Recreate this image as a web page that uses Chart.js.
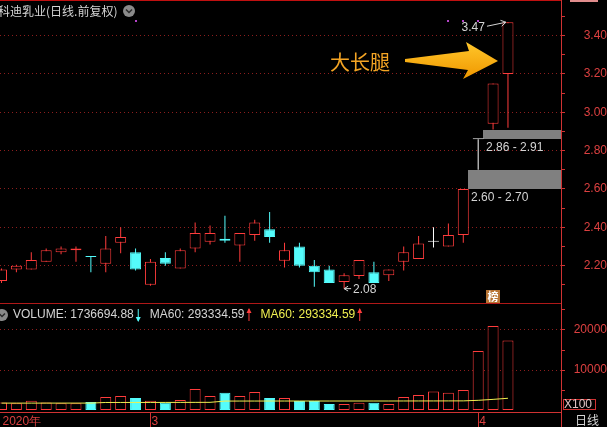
<!DOCTYPE html>
<html>
<head>
<meta charset="utf-8">
<script src="https://cdn.jsdelivr.net/npm/chart.js@4"></script>
<style>
html, body { margin: 0; padding: 0; background: #000; overflow: hidden; }
#wrap { position: relative; width: 607px; height: 427px; background: #000; }
#pBox { position: absolute; left: 0; top: 0; width: 607px; height: 303px; }
#vBox { position: absolute; left: 0; top: 303px; width: 607px; height: 124px; }
</style>
</head>
<body>
<div id="wrap">
  <div id="pBox"><canvas id="priceChart"></canvas></div>
  <div id="vBox"><canvas id="volChart"></canvas></div>
</div>
<script>
// daily candles, 科迪乳业 (前复权)
const opens  = [2.12,2.18,2.18,2.22,2.27,2.28,2.25,2.21,2.32,2.27,2.10,2.24,2.185,2.29,2.325,2.34,2.305,2.36,2.39,2.225,2.30,2.20,2.18,2.115,2.146,2.165,2.15,2.22,2.235,2.325,2.30,2.36,2.86,2.94,3.20];
const highs  = [2.185,2.205,2.27,2.29,2.30,2.30,2.25,2.355,2.40,2.29,2.235,2.27,2.29,2.425,2.41,2.46,2.37,2.44,2.48,2.32,2.32,2.23,2.20,2.16,2.23,2.22,2.18,2.30,2.355,2.40,2.42,2.60,2.86,3.15,3.47];
const lows   = [2.11,2.165,2.18,2.22,2.26,2.22,2.165,2.165,2.265,2.175,2.095,2.20,2.185,2.27,2.31,2.32,2.22,2.33,2.32,2.19,2.19,2.09,2.11,2.08,2.13,2.11,2.12,2.175,2.235,2.295,2.30,2.32,2.70,2.91,2.92];
const closes = [2.18,2.20,2.23,2.28,2.29,2.29,2.245,2.29,2.35,2.18,2.22,2.21,2.28,2.37,2.37,2.33,2.37,2.425,2.35,2.28,2.20,2.165,2.11,2.15,2.23,2.11,2.18,2.27,2.315,2.325,2.36,2.60,2.86,3.15,3.47];
// volume in units of 100
const volumes = [1900,1700,2300,1900,1700,1700,2000,3250,3500,3000,2300,1900,2500,5250,3500,4300,3500,4500,3000,3000,2250,2250,1500,1500,1800,1800,1500,3250,3750,4600,4300,5000,14750,21000,17367];
const ma60 = [1720,1720,1720,1725,1725,1725,1730,1880,1885,1890,1890,1895,1900,1910,1915,2230,2235,2240,2240,2245,2245,2245,2245,2250,2250,2250,2250,2255,2260,2265,2270,2280,2420,2660,2933];

const priceTicks = [2.1,2.2,2.3,2.4,2.5,2.6,2.7,2.8,2.9,3.0,3.1,3.2,3.3,3.4,3.5];
const priceTickLabels = ['','2.20','','2.40','','2.60','','2.80','','3.00','','3.20','','3.40',''];
const volTicks = [5000,10000,15000,20000,25000];
const volTickLabels = ['','10000','','20000',''];
const monthIdx = [0, 10, 32];
const monthLabels = ['2020年', '3', '4'];
const eventIdx = [9, 30, 31, 32];

const titleText = '科迪乳业(日线.前复权)';
const legendVol = 'VOLUME: 1736694.88';
const legendMa = 'MA60: 293334.59';

const UP = '#ff3c3c', DOWN = '#54fcfc', FLAT = '#ffffff';
const AXIS = '#d03232', GRID = '#8c1e1e', LABEL = '#dc4040', TXT = '#d4d4d4';
const X_MIN = -0.1, X_MAX = 37.56;

Chart.defaults.font.family = '"Liberation Sans", Arial, sans-serif';
Chart.defaults.font.size = 12;

const idx = opens.map((_, i) => i);
const colorOf = i => closes[i] > opens[i] ? UP : (closes[i] < opens[i] ? DOWN : FLAT);
const candleLine = idx.map(colorOf);
const candleFill = idx.map(i => closes[i] > opens[i] ? '#000000' : colorOf(i));
const volLine = idx.map(i => closes[i] < opens[i] ? DOWN : UP);
const volFill = idx.map(i => closes[i] < opens[i] ? DOWN : '#000000');

function arrowHead(ctx, x, y, dx, dy, size) {
  const len = Math.hypot(dx, dy), ux = dx / len, uy = dy / len;
  ctx.beginPath();
  ctx.moveTo(x, y);
  ctx.lineTo(x - ux * size - uy * size * 0.6, y - uy * size + ux * size * 0.6);
  ctx.moveTo(x, y);
  ctx.lineTo(x - ux * size + uy * size * 0.6, y - uy * size - ux * size * 0.6);
  ctx.stroke();
}

function circleIcon(ctx, cx, cy) {
  ctx.fillStyle = '#8a8a8a';
  ctx.beginPath(); ctx.arc(cx, cy, 6, 0, Math.PI * 2); ctx.fill();
  ctx.strokeStyle = '#2a2a2a'; ctx.lineWidth = 1.5;
  ctx.beginPath(); ctx.moveTo(cx - 3, cy - 1.5); ctx.lineTo(cx, cy + 1.5); ctx.lineTo(cx + 3, cy - 1.5); ctx.stroke();
}

function fixRight(s) { s.width = 46; s.paddingTop = 0; s.paddingBottom = 0; }

const priceDecor = {
  id: 'priceDecor',
  beforeDatasetsDraw(chart) {
    const { ctx, chartArea, scales: { x, y } } = chart;
    ctx.save();
    ctx.font = '12px "Liberation Sans"';
    ctx.textBaseline = 'middle';
    ctx.textAlign = 'left';
    // unfilled up-gaps
    for (let i = 0; i < highs.length - 1; i++) {
      const lo = highs[i], hi = lows[i + 1];
      if (hi <= lo) continue;
      if (lows.slice(i + 1).some(v => v <= lo)) continue;
      const x0 = Math.round(x.getPixelForValue(i) + 5);
      const yTop = Math.round(y.getPixelForValue(hi)), yBot = Math.round(y.getPixelForValue(lo));
      ctx.fillStyle = '#808080';
      ctx.fillRect(x0, yTop, chartArea.right - x0, yBot - yTop);
      ctx.fillStyle = TXT;
      ctx.fillText(lo.toFixed(2) + ' - ' + hi.toFixed(2), x0 + 3, yBot + 9);
    }
    ctx.restore();
  },
  afterDraw(chart) {
    const { ctx, scales: { x, y } } = chart;
    ctx.save();
    ctx.fillStyle = '#c01010';
    ctx.fillRect(0, 0, 561, 1);
    ctx.fillStyle = '#e08c8c';
    ctx.fillRect(570, 0, 28, 2);

    ctx.font = '12px "Noto Sans CJK SC"';
    ctx.fillStyle = TXT;
    ctx.textBaseline = 'middle';
    ctx.textAlign = 'left';
    ctx.fillText(titleText, -2, 11);
    circleIcon(ctx, 129, 11);

    ctx.fillStyle = '#b444c8';
    eventIdx.forEach(i => ctx.fillRect(Math.round(x.getPixelForValue(i)) - 1, 20, 2, 2));

    // highest / lowest marks
    ctx.font = '12px "Liberation Sans"';
    ctx.strokeStyle = TXT; ctx.fillStyle = TXT; ctx.lineWidth = 1;
    const iMax = highs.indexOf(Math.max(...highs));
    const hx = x.getPixelForValue(iMax), hy = y.getPixelForValue(highs[iMax]);
    ctx.textAlign = 'right';
    ctx.fillText(highs[iMax].toFixed(2), hx - 23, hy + 5);
    ctx.beginPath(); ctx.moveTo(hx - 21, hy + 4); ctx.lineTo(hx - 2, hy); ctx.stroke();
    arrowHead(ctx, hx - 2, hy, 19, -4, 5);
    const iMin = lows.indexOf(Math.min(...lows));
    const lx = x.getPixelForValue(iMin), ly = y.getPixelForValue(lows[iMin]);
    ctx.textAlign = 'left';
    ctx.beginPath(); ctx.moveTo(lx, ly); ctx.lineTo(lx + 7, ly); ctx.stroke();
    arrowHead(ctx, lx, ly, -7, 0, 4);
    ctx.fillText(lows[iMin].toFixed(2), lx + 9, ly + 1);

    // annotation arrow
    const g = ctx.createLinearGradient(0, 43, 0, 78);
    g.addColorStop(0, '#ffc62a');
    g.addColorStop(1, '#f09800');
    ctx.fillStyle = g;
    ctx.beginPath();
    ctx.moveTo(405, 59);
    ctx.lineTo(469, 51);
    ctx.lineTo(466, 42);
    ctx.lineTo(498, 61);
    ctx.lineTo(463, 79);
    ctx.lineTo(468, 70);
    ctx.lineTo(405, 62);
    ctx.closePath();
    ctx.fill();
    ctx.font = '20px "Noto Sans CJK SC"';
    ctx.fillStyle = '#f4a424';
    ctx.fillText('大长腿', 330, 62);

    // 榜 badge
    const bx = Math.round(x.getPixelForValue(33)) - 7;
    ctx.fillStyle = '#b87434';
    ctx.fillRect(bx, 290, 14, 13);
    ctx.fillStyle = '#ffffff';
    ctx.font = 'bold 11px "Noto Sans CJK SC"';
    ctx.textAlign = 'center';
    ctx.fillText('榜', bx + 7, 297);
    ctx.restore();
  }
};

const volDecor = {
  id: 'volDecor',
  afterDraw(chart) {
    const { ctx, chartArea } = chart;
    ctx.save();
    ctx.fillStyle = '#b01818';
    ctx.fillRect(0, 0, 561, 1);
    ctx.fillStyle = AXIS;
    ctx.fillRect(561, chartArea.bottom, 1, chart.height - chartArea.bottom);

    circleIcon(ctx, 2, 12);
    ctx.font = '12px "Liberation Sans"';
    ctx.textBaseline = 'middle';
    ctx.textAlign = 'left';
    const drawArrow = (ax, up, col) => {
      ctx.strokeStyle = col; ctx.fillStyle = col; ctx.lineWidth = 1;
      ctx.beginPath(); ctx.moveTo(ax + 0.5, 6); ctx.lineTo(ax + 0.5, 18); ctx.stroke();
      ctx.beginPath();
      if (up) { ctx.moveTo(ax + 0.5, 5); ctx.lineTo(ax - 2, 10); ctx.lineTo(ax + 3, 10); }
      else { ctx.moveTo(ax + 0.5, 19); ctx.lineTo(ax - 2, 14); ctx.lineTo(ax + 3, 14); }
      ctx.fill();
    };
    let tx = 13;
    ctx.fillStyle = TXT;
    ctx.fillText(legendVol, tx, 12);
    tx += ctx.measureText(legendVol).width + 4;
    drawArrow(tx, false, DOWN);
    tx += 12;
    ctx.fillStyle = TXT;
    ctx.fillText(legendMa, tx, 12);
    tx += ctx.measureText(legendMa).width + 4;
    drawArrow(tx, true, UP);
    tx += 12;
    ctx.fillStyle = '#f0f050';
    ctx.fillText(legendMa, tx, 12);
    tx += ctx.measureText(legendMa).width + 4;
    drawArrow(tx, true, UP);

    ctx.strokeStyle = AXIS; ctx.lineWidth = 1;
    ctx.strokeRect(563.5, 96.5, 32, 10);
    ctx.fillStyle = '#e0c4c4';
    ctx.fillText('X100', 564, 102);
    ctx.font = '12px "Noto Sans CJK SC"';
    ctx.fillStyle = TXT;
    ctx.fillText('日线', 575, 117);
    ctx.restore();
  }
};

new Chart(document.getElementById('priceChart'), {
  type: 'bar',
  data: {
    datasets: [
      {
        label: 'body',
        data: idx.map(i => ({ x: i, y: [opens[i], closes[i]] })),
        backgroundColor: candleFill,
        borderColor: candleLine,
        borderWidth: 1,
        borderSkipped: false,
        barThickness: 11,
        minBarLength: 1,
        inflateAmount: 0,
        grouped: false,
        order: 0
      },
      {
        label: 'wick',
        data: idx.map(i => ({ x: i, y: [lows[i], highs[i]] })),
        backgroundColor: candleLine,
        borderWidth: 0,
        barThickness: 1,
        inflateAmount: 0,
        grouped: false,
        order: 1
      }
    ]
  },
  options: {
    responsive: true,
    maintainAspectRatio: false,
    animation: false,
    events: [],
    layout: { padding: 0, autoPadding: false },
    plugins: { legend: { display: false }, tooltip: { enabled: false } },
    scales: {
      x: { type: 'linear', min: X_MIN, max: X_MAX, display: false, offset: false, grid: { offset: false } },
      y: {
        position: 'right',
        min: 2.005,
        max: 3.586,
        afterBuildTicks: s => { s.ticks = priceTicks.map(v => ({ value: v })); },
        afterFit: fixRight,
        ticks: {
          callback: (v, i) => priceTickLabels[i],
          color: LABEL,
          crossAlign: 'far',
          padding: 2,
          font: { size: 12 }
        },
        grid: {
          color: c => priceTickLabels[c.index] ? GRID : 'transparent',
          tickColor: AXIS,
          tickLength: 4
        },
        border: { color: AXIS, dash: [1, 3] }
      }
    }
  },
  plugins: [priceDecor]
});

new Chart(document.getElementById('volChart'), {
  type: 'bar',
  data: {
    datasets: [
      {
        type: 'line',
        label: 'MA60',
        data: idx.map(i => ({ x: i, y: ma60[i] })),
        borderColor: '#f0f050',
        borderWidth: 1,
        pointRadius: 0,
        order: 0
      },
      {
        label: 'VOLUME',
        data: idx.map(i => ({ x: i, y: volumes[i] })),
        backgroundColor: volFill,
        borderColor: volLine,
        borderWidth: 1,
        borderSkipped: false,
        barThickness: 11,
        inflateAmount: 0,
        grouped: false,
        order: 1
      }
    ]
  },
  options: {
    responsive: true,
    maintainAspectRatio: false,
    animation: false,
    events: [],
    layout: { padding: 0, autoPadding: false },
    plugins: { legend: { display: false }, tooltip: { enabled: false } },
    scales: {
      x: {
        type: 'linear',
        min: X_MIN,
        max: X_MAX,
        offset: false,
        afterBuildTicks: s => { s.ticks = monthIdx.map(v => ({ value: v })); },
        afterFit: s => { s.height = 15; s.paddingLeft = 0; s.paddingRight = 0; },
        ticks: {
          callback: v => monthLabels[monthIdx.indexOf(v)],
          color: LABEL,
          align: 'start',
          labelOffset: 1,
          padding: -13,
          autoSkip: false,
          maxRotation: 0,
          font: { size: 12 }
        },
        grid: {
          offset: false,
          drawOnChartArea: false,
          tickLength: 15,
          tickColor: c => c.index === 0 ? 'transparent' : AXIS
        },
        border: { color: AXIS }
      },
      y: {
        position: 'right',
        min: -500,
        max: 26750,
        afterBuildTicks: s => { s.ticks = volTicks.map(v => ({ value: v })); },
        afterFit: fixRight,
        ticks: {
          callback: (v, i) => volTickLabels[i],
          color: LABEL,
          crossAlign: 'far',
          padding: 2,
          font: { size: 12 }
        },
        grid: {
          color: c => volTickLabels[c.index] ? GRID : 'transparent',
          tickColor: AXIS,
          tickLength: 4
        },
        border: { color: AXIS, dash: [1, 3] }
      }
    }
  },
  plugins: [volDecor]
});
</script>
</body>
</html>
